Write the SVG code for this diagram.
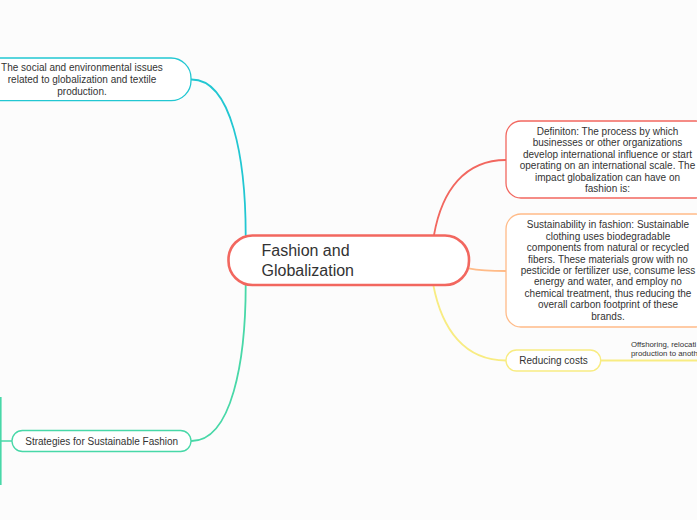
<svg xmlns="http://www.w3.org/2000/svg" width="697" height="520" viewBox="0 0 697 520">
<style>
text{font-family:"Liberation Sans","Noto Sans",Arial,sans-serif;fill:#333;}
.t{font-size:10px;text-anchor:middle;}
.n{fill:#fff;stroke-width:1.3;}
.c{fill:none;stroke-width:1.8;stroke-linecap:round;}
</style>
<rect x="0" y="0" width="697" height="520" fill="#fcfcfc"/>
<g id="connectors">
<path class="c" d="M191.5,79.5 C232,79.5 245.7,160 245.7,235" stroke="#22c7d2"/>
<path class="c" d="M191.5,441 C232,441 245.7,360 245.7,285" stroke="#48d8a8"/>
<path class="c" d="M434,235 C442,190 465,160 506,160" stroke="#f2675f"/>
<path class="c" d="M468.5,268.3 C480,270.5 490,271 506,271" stroke="#ffbb88"/>
<path class="c" d="M433.3,285 C442,330 465,360.5 506,360.5" stroke="#f8ec82"/>
<path class="c" d="M600.7,360.5 L697,360.5" stroke="#f8ec82"/>
<path d="M0.8,397 L0.8,485 M0.8,441 L12,441" fill="none" stroke="#48d8a8" stroke-width="1.6"/>
</g>
<g id="central">
<rect x="228.5" y="235.5" width="240.5" height="49.5" rx="24" fill="#fff" stroke="#f2675f" stroke-width="2.6"/>
<text x="261.5" y="256" font-size="16">Fashion and</text>
<text x="261.5" y="275.5" font-size="16">Globalization</text>
</g>
<g id="social">
<rect class="n" x="-30" y="58" width="221" height="42.7" rx="20" stroke="#22c7d2"/>
<text class="t" x="82" y="70.5">The social and environmental issues</text>
<text class="t" x="82" y="83">related to globalization and textile</text>
<text class="t" x="82" y="95">production.</text>
</g>
<g id="strategies">
<rect class="n" x="12" y="430.5" width="179" height="21" rx="10.5" stroke="#48d8a8"/>
<text class="t" x="101.7" y="444.5" font-size="10.4">Strategies for Sustainable Fashion</text>
</g>
<g id="definition">
<rect class="n" x="506" y="121" width="205" height="77" rx="15" stroke="#f2675f"/>
<text class="t" x="607.5" y="134.5">Definiton: The process by which</text>
<text class="t" x="607.5" y="146">businesses or other organizations</text>
<text class="t" x="607.5" y="157.6">develop international influence or start</text>
<text class="t" x="607.5" y="169.2">operating on an international scale. The</text>
<text class="t" x="607.5" y="180.8">impact globalization can have on</text>
<text class="t" x="607.5" y="192.4">fashion is:</text>
</g>
<g id="sustainability">
<rect class="n" x="506" y="214" width="205" height="113" rx="15" stroke="#ffbb88"/>
<text class="t" x="608" y="228.4">Sustainability in fashion: Sustainable</text>
<text class="t" x="608" y="239.8">clothing uses biodegradable</text>
<text class="t" x="608" y="251.2">components from natural or recycled</text>
<text class="t" x="608" y="262.6">fibers. These materials grow with no</text>
<text class="t" x="608" y="274">pesticide or fertilizer use, consume less</text>
<text class="t" x="608" y="285.4">energy and water, and employ no</text>
<text class="t" x="608" y="296.8">chemical treatment, thus reducing the</text>
<text class="t" x="608" y="308.2">overall carbon footprint of these</text>
<text class="t" x="608" y="319.6">brands.</text>
</g>
<g id="reducing">
<rect class="n" x="506" y="350" width="94.7" height="21" rx="10.5" stroke="#f8ec82"/>
<text class="t" x="553.5" y="364.2" font-size="10.2">Reducing costs</text>
</g>
<g id="offshoring">
<text x="631" y="347" font-size="7.8">Offshoring, relocati</text>
<text x="631" y="356" font-size="7.8">production to anoth</text>
</g>
</svg>
